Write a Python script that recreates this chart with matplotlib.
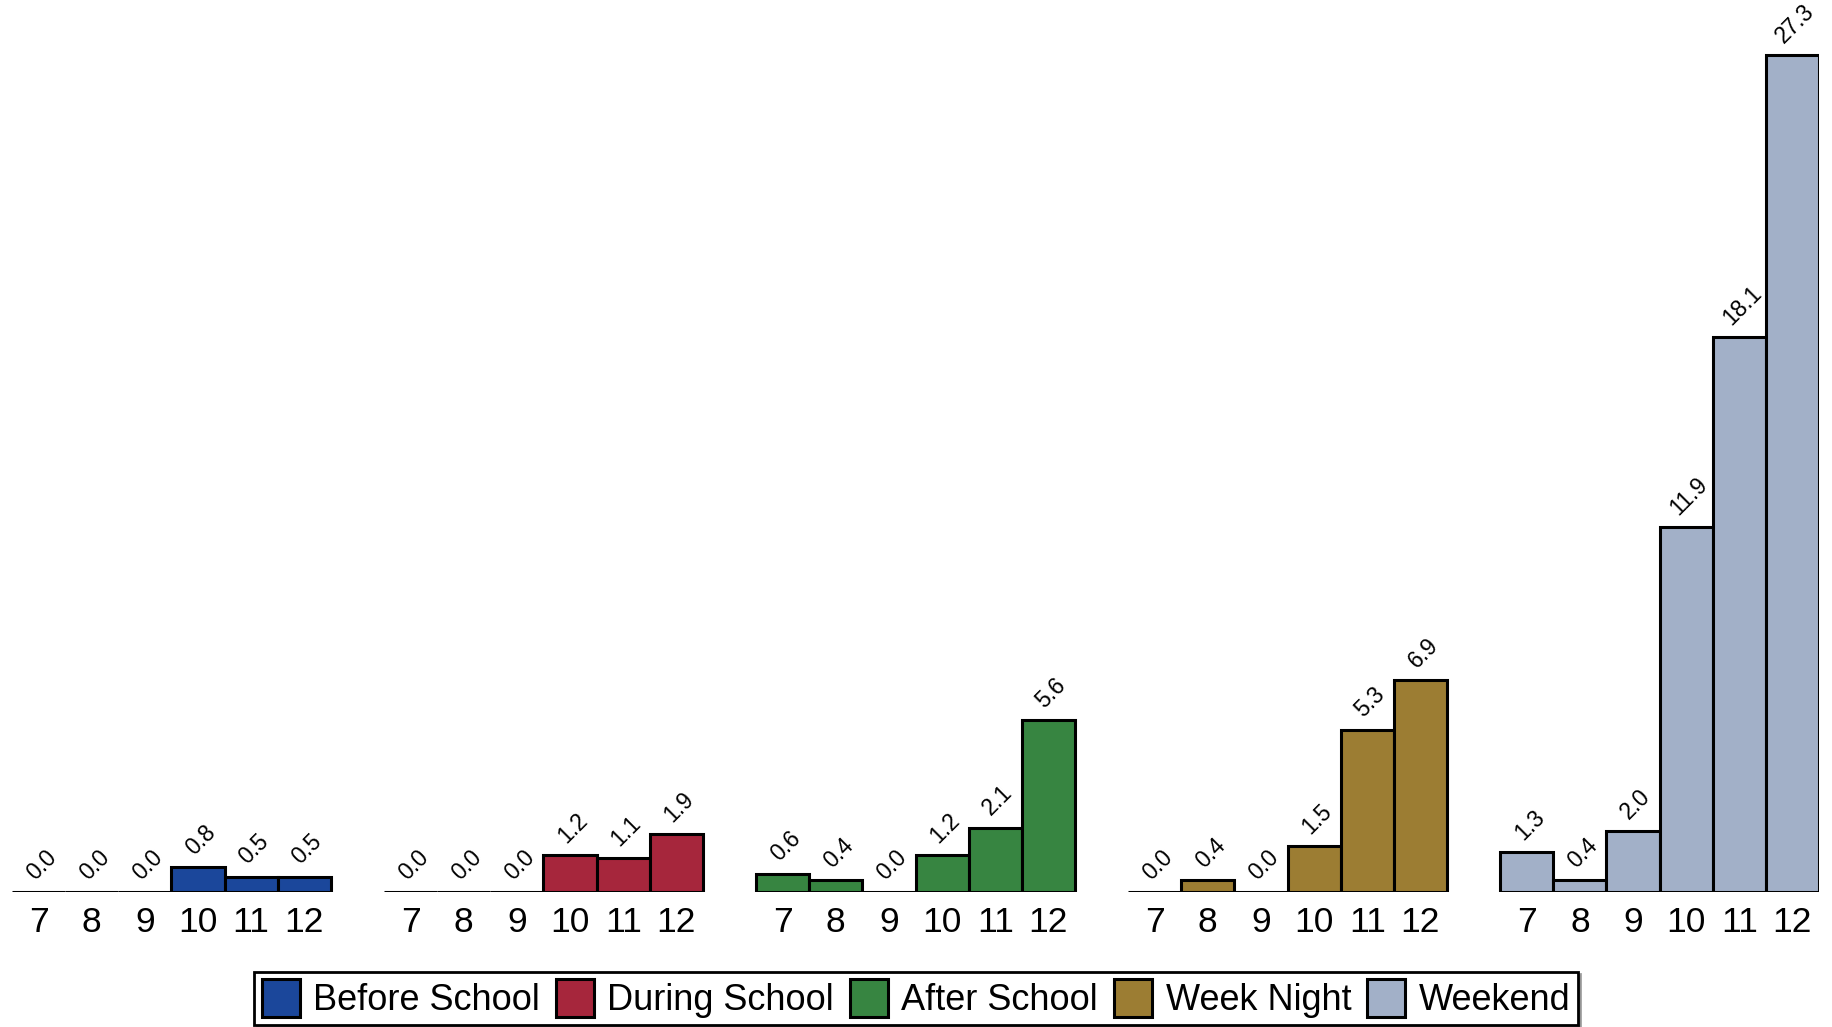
import numpy as np
import matplotlib
matplotlib.use('Agg')
import matplotlib.pyplot as plt

plt.rcParams['font.family'] = ['Liberation Sans', 'DejaVu Sans']

grades = ['7', '8', '9', '10', '11', '12']
periods = ['Before School', 'During School', 'After School', 'Week Night', 'Weekend']
colors = ['#1b479b', '#a6263c', '#378541', '#9c7d33', '#a2b0c8']

before_school = [0.0, 0.0, 0.0, 0.8, 0.5, 0.5]
during_school = [0.0, 0.0, 0.0, 1.2, 1.1, 1.9]
after_school = [0.6, 0.4, 0.0, 1.2, 2.1, 5.6]
week_night = [0.0, 0.4, 0.0, 1.5, 5.3, 6.9]
weekend = [1.3, 0.4, 2.0, 11.9, 18.1, 27.3]

series = [before_school, during_school, after_school, week_night, weekend]

fig = plt.figure(figsize=(18.32, 10.27), dpi=100)
ax = fig.add_axes([12 / 1832, 135 / 1027, 1807 / 1832, 889 / 1027])

ticks = []
tick_labels = []
for g, vals in enumerate(series):
    x = np.arange(len(grades)) + g * (len(grades) + 1)
    ax.bar(x, vals, width=1.0, color=colors[g], edgecolor='black',
           linewidth=2.2, label=periods[g])
    for xi, v in zip(x, vals):
        ax.annotate(f'{v:.1f}', (xi, v), xytext=(2, 5.5), textcoords='offset points',
                    ha='center', va='bottom', rotation=45, fontsize=16.5)
    ticks.extend(x)
    tick_labels.extend(grades)

ax.set_xticks(ticks)
ax.set_xticklabels(tick_labels, fontsize=25.5)
ax.tick_params(axis='x', length=0, pad=10)
ax.set_yticks([])
ax.set_xlim(-0.5, 33.5)
ax.set_ylim(0, 29)
for s in ax.spines.values():
    s.set_visible(False)

leg = fig.legend(loc='lower center', bbox_to_anchor=(0.5, 0.0), ncol=5, fontsize=26,
                 frameon=True, fancybox=False, edgecolor='black', framealpha=1,
                 shadow={'color': '#888888', 'alpha': 0.8},
                 handlelength=1.05, handleheight=1.25, handletextpad=0.37,
                 columnspacing=0.45, borderpad=0.2, borderaxespad=0.05)
leg.get_frame().set_linewidth(2)

fig.savefig('out.png', dpi=100)
